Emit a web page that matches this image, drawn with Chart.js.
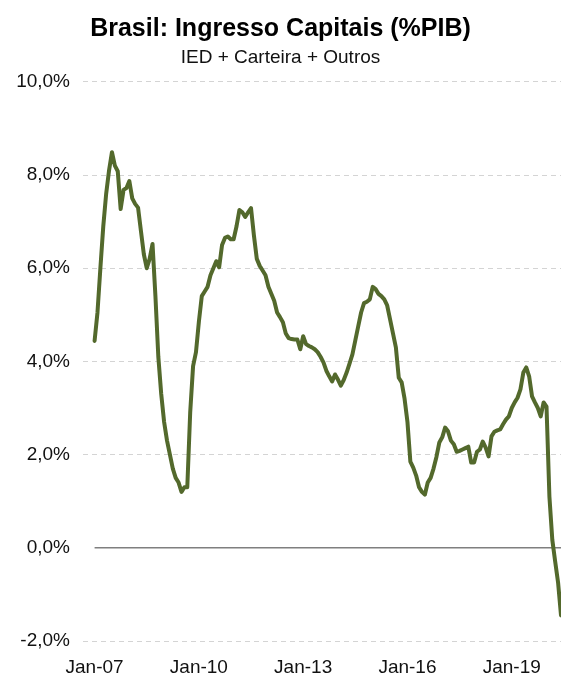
<!DOCTYPE html>
<html>
<head>
<meta charset="utf-8">
<script src="https://cdn.jsdelivr.net/npm/chart.js@4.4.0/dist/chart.umd.min.js"></script>
<style>
  html, body { margin: 0; padding: 0; background: #fff; }
  #wrap { width: 562px; height: 678px; }
</style>
</head>
<body>
<div id="wrap"><canvas id="capitais"></canvas></div>
<script>
// Ingresso de capitais (% do PIB), mensal, jan-07 em diante
const ingresso = [
  4.44, 5.05, 6.0, 6.9, 7.6, 8.1, 8.49, 8.2, 8.08, 7.27,
  7.68, 7.72, 7.87, 7.5, 7.38, 7.3, 6.8, 6.3, 6.0, 6.2,
  6.52, 5.4, 4.1, 3.3, 2.7, 2.3, 2.0, 1.7, 1.5, 1.4,
  1.2, 1.3, 1.3, 2.9, 3.9, 4.2, 4.85, 5.4, 5.5, 5.6,
  5.85, 6.0, 6.15, 6.02, 6.5, 6.65, 6.68, 6.62, 6.62, 6.9,
  7.25, 7.2, 7.1, 7.2, 7.29, 6.7, 6.2, 6.05, 5.95, 5.85,
  5.6, 5.45, 5.3, 5.05, 4.95, 4.84, 4.6, 4.5, 4.48, 4.47,
  4.47, 4.26, 4.54, 4.37, 4.33, 4.3, 4.26, 4.2, 4.1, 3.98,
  3.8, 3.68, 3.57, 3.72, 3.61, 3.48, 3.6, 3.76, 3.95, 4.15,
  4.45, 4.75, 5.05, 5.25, 5.28, 5.33, 5.6, 5.55, 5.45, 5.4,
  5.33, 5.2, 4.9, 4.6, 4.3, 3.65, 3.55, 3.2, 2.7, 1.85,
  1.72, 1.55, 1.3, 1.2, 1.14, 1.4, 1.5, 1.7, 1.95, 2.26,
  2.37, 2.58, 2.5, 2.3, 2.22, 2.06, 2.08, 2.11, 2.14, 2.17,
  1.83, 1.83, 2.06, 2.11, 2.28, 2.15, 1.96, 2.39, 2.49, 2.52,
  2.54, 2.65, 2.75, 2.82, 3.0, 3.12, 3.22, 3.4, 3.76, 3.87,
  3.68, 3.25, 3.12, 3.0, 2.82, 3.12, 3.03, 1.1, 0.17, -0.3,
  -0.75, -1.45
];

// meses desde jan-07 onde aparecem os rótulos do eixo x
const tickMonths = [0, 36, 72, 108, 144];
const tickLabels = ['Jan-07', 'Jan-10', 'Jan-13', 'Jan-16', 'Jan-19'];

const yMin = -2;
const yMax = 10;
const yStep = 2;

const zeroLine = {
  id: 'zeroLine',
  beforeDatasetsDraw(chart) {
    const { ctx, chartArea, scales } = chart;
    const y0 = scales.y.getPixelForValue(0);
    const xStart = scales.x.getPixelForValue(0);
    ctx.save();
    ctx.strokeStyle = '#7f7f7f';
    ctx.lineWidth = 1.5;
    ctx.beginPath();
    ctx.moveTo(xStart, y0);
    ctx.lineTo(chartArea.right, y0);
    ctx.stroke();
    ctx.restore();
  }
};

const ctx = document.getElementById('capitais').getContext('2d');

new Chart(ctx, {
  type: 'line',
  data: {
    datasets: [{
      label: 'Ingresso Capitais',
      data: ingresso.map((v, i) => ({ x: i, y: v })),
      borderColor: '#53692c',
      borderWidth: 4,
      pointRadius: 0,
      tension: 0,
      borderJoinStyle: 'round',
      borderCapStyle: 'round'
    }]
  },
  options: {
    responsive: true,
    maintainAspectRatio: false,
    devicePixelRatio: 1,
    animation: false,
    layout: { padding: { top: 0, right: 1, bottom: 0, left: 0 } },
    plugins: {
      legend: { display: false },
      tooltip: { enabled: false },
      title: {
        display: true,
        text: 'Brasil: Ingresso Capitais (%PIB)',
        color: '#000',
        font: { family: 'Liberation Sans, Arial, sans-serif', size: 25, weight: 'bold' },
        padding: { top: 14, bottom: 2 }
      },
      subtitle: {
        display: true,
        text: 'IED + Carteira + Outros',
        color: '#111',
        font: { family: 'Liberation Sans, Arial, sans-serif', size: 19 },
        padding: { top: 0, bottom: 13 }
      }
    },
    scales: {
      x: {
        type: 'linear',
        min: -4,
        max: ingresso.length - 1,
        afterBuildTicks: (s) => { s.ticks = tickMonths.map(v => ({ value: v })); },
        afterFit: (s) => { s.height = 37; },
        grid: { display: false },
        border: { display: false },
        ticks: {
          autoSkip: false,
          maxRotation: 0,
          padding: 7,
          color: '#111',
          font: { family: 'Liberation Sans, Arial, sans-serif', size: 19 },
          callback: (v) => tickLabels[tickMonths.indexOf(v)]
        }
      },
      y: {
        min: yMin,
        max: yMax,
        afterFit: (s) => { s.width = 83; },
        border: { display: false, dash: [5, 4] },
        grid: {
          drawTicks: false,
          color: (c) => c.tick && c.tick.value === 0 ? 'rgba(0,0,0,0)' : '#d4d4d4',
          lineWidth: 1
        },
        ticks: {
          stepSize: yStep,
          padding: 13,
          color: '#111',
          font: { family: 'Liberation Sans, Arial, sans-serif', size: 19 },
          callback: (v) => v.toFixed(1).replace('.', ',') + '%'
        }
      }
    }
  },
  plugins: [zeroLine]
});
</script>
</body>
</html>
